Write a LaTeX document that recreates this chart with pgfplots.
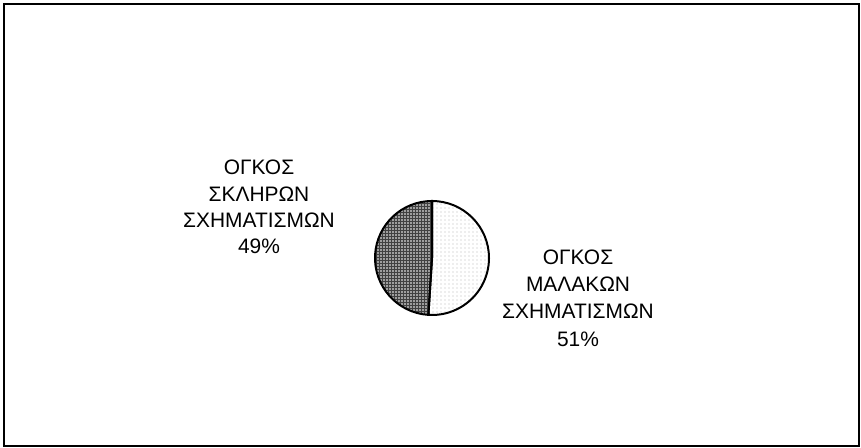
\documentclass[border=0pt]{standalone}
\usepackage{fontspec}
\setmainfont{Liberation Sans}
\usepackage{pgfplots}
\usepackage{pgfplotstable}
\pgfplotsset{compat=1.18}
\usetikzlibrary{patterns.meta}

\pgfplotstableread{
part value
soft 51
hard 49
}\piedata
\pgfplotstablegetelem{0}{value}\of\piedata \let\vsoft\pgfplotsretval
\pgfplotstablegetelem{1}{value}\of\piedata \let\vhard\pgfplotsretval
\pgfmathsetmacro{\aA}{90-3.6*\vsoft}
\pgfmathsetmacro{\aB}{\aA-3.6*\vhard}

\begin{document}
\begin{tikzpicture}[lbl/.style={anchor=base, inner sep=0pt, font=\fontsize{21}{24}\selectfont}]
\begin{axis}[
  width=861bp, height=448bp, scale only axis,
  xmin=0, xmax=861, ymin=0, ymax=448,
  hide axis, clip=false,
]
% soft (51%) wedge: sparse dots
\fill[white] (axis cs:432,190) -- ++(90:57bp) arc[start angle=90, end angle=\aA, radius=57bp] -- cycle;
\fill[pattern={Dots[distance=4bp, radius=0.45bp, xshift=1bp]}, pattern color=black!80]
  (axis cs:432,190) -- ++(90:57bp) arc[start angle=90, end angle=\aA, radius=57bp] -- cycle;
% hard (49%) wedge: dense dark pattern
\fill[black!75] (axis cs:432,190) -- ++(\aA:57bp) arc[start angle=\aA, end angle=\aB, radius=57bp] -- cycle;
\fill[pattern={Dots[distance=3bp, radius=0.9bp]}, pattern color=white]
  (axis cs:432,190) -- ++(\aA:57bp) arc[start angle=\aA, end angle=\aB, radius=57bp] -- cycle;
% outlines
\draw[line width=2bp] (axis cs:432,190) -- ++(90:57bp) arc[start angle=90, end angle=\aA, radius=57bp] -- cycle;
\draw[line width=2bp] (axis cs:432,190) -- ++(\aA:57bp) arc[start angle=\aA, end angle=\aB, radius=57bp] -- cycle;
% labels
\node[lbl] at (axis cs:259,273) {ΟΓΚΟΣ};
\node[lbl] at (axis cs:259,246) {ΣΚΛΗΡΩΝ};
\node[lbl] at (axis cs:259,220) {ΣΧΗΜΑΤΙΣΜΩΝ};
\node[lbl] at (axis cs:259,194) {\vhard\%};
\node[lbl] at (axis cs:578,183) {ΟΓΚΟΣ};
\node[lbl] at (axis cs:578,156) {ΜΑΛΑΚΩΝ};
\node[lbl] at (axis cs:578,129) {ΣΧΗΜΑΤΙΣΜΩΝ};
\node[lbl] at (axis cs:578,101) {\vsoft\%};
% frame
\draw[line width=1.2bp] (axis cs:4,2) rectangle (axis cs:859,444);
\end{axis}
\path[use as bounding box] (0,0) rectangle (861bp,448bp);
\end{tikzpicture}
\end{document}
